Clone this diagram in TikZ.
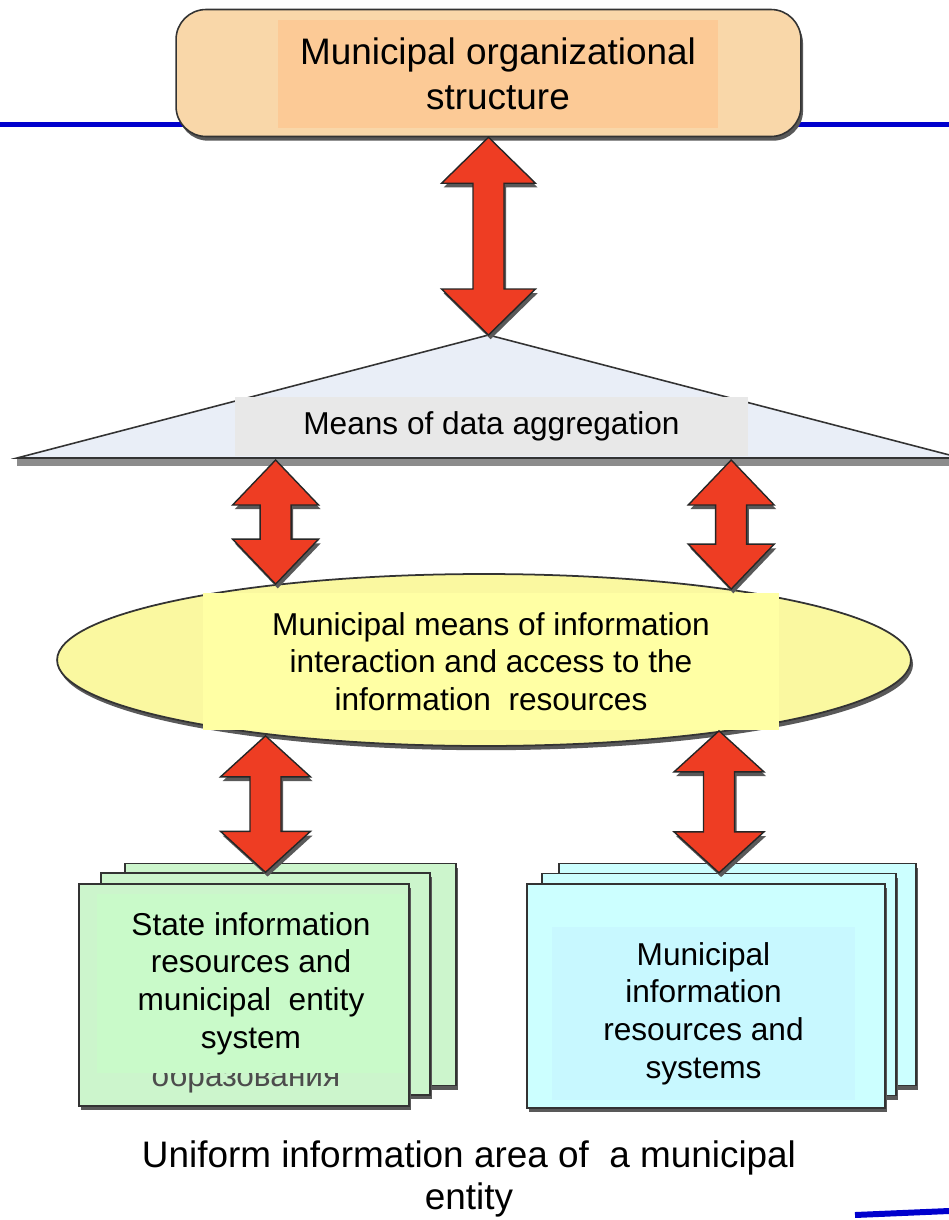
\documentclass[tikz,border=0pt]{standalone}
\usepackage{fontspec}
\setmainfont{Liberation Sans}
\usetikzlibrary{shapes,arrows,positioning,calc,shadows}

\definecolor{lineblue}{RGB}{0,0,205}
\definecolor{orgfill}{HTML}{F9D7A9}
\definecolor{orgin}{HTML}{FCCA96}
\definecolor{trifill}{HTML}{E9EEF7}
\definecolor{aggrfill}{HTML}{E8E8E8}
\definecolor{ellfill}{HTML}{FAF8A0}
\definecolor{ellin}{HTML}{FFFFA4}
\definecolor{arrowred}{HTML}{EE3D23}
\definecolor{greenfill}{HTML}{CCF5CC}
\definecolor{greenin}{HTML}{C9FAC9}
\definecolor{cyanfill}{HTML}{CCFFFF}
\definecolor{cyanin}{HTML}{C8F8FF}

\tikzset{
  castshadow/.style={drop shadow={shadow xshift=1.2pt,shadow yshift=-2.4pt,fill=black!65,opacity=1}},
  textbox/.style={inner sep=0pt,align=center,font=\fontsize{18}{21.5}\selectfont},
  sheet/.style={draw=black!80,line width=0.8pt,inner sep=0pt,minimum height=4.44cm,castshadow},
  blockarrow/.style={draw=black!85,fill=arrowred,line width=0.8pt,line join=miter,castshadow},
  blueline/.style={draw=lineblue,line width=2.3pt}
}

% #1 half head width, #2 head length, #3 upper tip, #4 lower tip
\newcommand{\dblarrow}[4]{%
  \draw[blockarrow] (#3) -- ($(#3)+(-#1,#2)$) -- ($(#3)+(-15.5,#2)$) -- ($(#4)+(-15.5,-#2)$)
    -- ($(#4)+(-#1,-#2)$) -- (#4) -- ($(#4)+(#1,-#2)$) -- ($(#4)+(15.5,-#2)$)
    -- ($(#3)+(15.5,#2)$) -- ($(#3)+(#1,#2)$) -- cycle;}

\begin{document}
\begin{tikzpicture}[x=0.02cm,y=-0.02cm]
    \useasboundingbox (0,0) rectangle (949,1220);

    \draw[blueline] (0,124.5) -- (949,124.5);
    \draw[blueline,line width=3.4pt] (855,1215) -- (949,1211);

    \node[rounded corners=0.6cm,draw=black!80,line width=0.9pt,fill=orgfill,minimum width=12.5cm,minimum height=2.54cm,castshadow] (org) at (488.5,73) {};
    \node[textbox,fill=orgin,minimum width=8.8cm,minimum height=2.16cm,font=\fontsize{21}{25.5}\selectfont] (orgtxt) at (498,74) {Municipal organizational\\structure};

    \coordinate (apex) at (488.5,335);
    \coordinate (baseW) at (17,460);
    \fill[black!45] (17,458) rectangle (949,466);
    \draw[fill=trifill,draw=black!80,line width=0.9pt] (apex) -- (961,458) -- (baseW |- 0,458) -- cycle;
    \node[textbox,fill=aggrfill,minimum width=10.28cm,minimum height=1.18cm] (aggr) at (491.5,426.5) {Means of data aggregation};

    \node[sheet,fill=greenfill,minimum width=6.62cm] (lsheetA) at (290.5,974.5) {};
    \node[sheet,fill=greenfill,minimum width=6.58cm] (lsheetB) at (265.5,984) {};
    \node[sheet,fill=greenfill,minimum width=6.6cm] (lsheetC) at (244,995) {};
    \node[font=\fontsize{18}{21.5}\selectfont,text=black!70,anchor=base,inner sep=0pt] (ghost) at (246,1086) {образования};
    \node[textbox,fill=greenin,minimum width=6.16cm,minimum height=3.58cm] (statetxt) at (251,983.5) {State information\\resources and\\municipal\ \ entity\\system};

    \node[sheet,fill=cyanfill,minimum width=7.14cm] (rsheetA) at (737.5,974.5) {};
    \node[sheet,fill=cyanfill,minimum width=7.08cm] (rsheetB) at (719,984.5) {};
    \node[sheet,fill=cyanfill,minimum width=7.16cm,minimum height=4.48cm] (rsheetC) at (706,996) {};
    \node[textbox,fill=cyanin,minimum width=6.06cm,minimum height=3.46cm] (munitxt) at (703.5,1013.5) {Municipal\\information\\resources and\\systems};

    \node[ellipse,draw=black!80,line width=1pt,fill=ellfill,minimum width=17.08cm,minimum height=3.44cm,castshadow] (means) at (484,660) {};
    \node[textbox,fill=ellin,minimum width=11.52cm,minimum height=2.74cm] (meanstxt) at (491,661.5) {Municipal means of information\\interaction and access to the\\information\ \ resources};

    \coordinate (upL) at (means.160 |- baseW);
    \coordinate (upR) at (means.16 |- baseW);
    \coordinate (lowL) at (means.200 -| lsheetB.north);
    \coordinate (lowR) at (means.344 -| rsheetB.north);

    \dblarrow{47}{46}{org.south}{apex}
    \dblarrow{43}{45}{upL}{means.160}
    \dblarrow{43}{45}{upR}{means.16}
    \dblarrow{45}{41}{lowL}{lsheetB.north}
    \dblarrow{45}{41}{lowR}{rsheetB.north}

    \node[align=center,font=\fontsize{21}{24}\selectfont] (caption) at (469,1179) {Uniform information area of\ \ a municipal\\entity};
\end{tikzpicture}
\end{document}
